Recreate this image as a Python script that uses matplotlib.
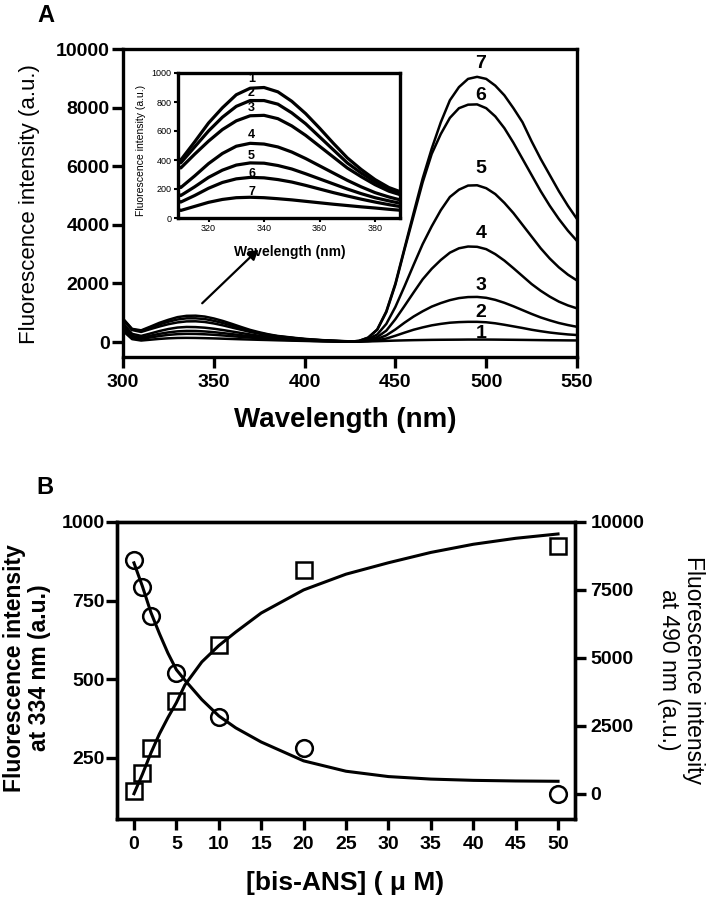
import numpy as np
import matplotlib
matplotlib.use("Agg")
import matplotlib.pyplot as plt

# fonts: Arial-like, DejaVu as fallback for odd glyphs
plt.rcParams["font.family"] = ["Liberation Sans", "DejaVu Sans"]

"""
Data read off the figure
"""

# Panel A: emission spectra, sampled every 5 nm (300-550 nm)
wavelength = np.arange(300, 551, 5)

spec1 = [800, 450, 400, 525, 655, 760, 850, 895, 900, 870, 805, 720, 620, 515, 415, 335, 265, 210, 175, 140, 110, 85, 65, 50, 35, 25,
         20, 22, 30, 40, 50, 58, 65, 70, 75, 78, 80, 82, 85, 85, 85, 83, 80, 77, 74, 70, 66, 62, 60, 57, 55]
spec2 = [780, 430, 380, 490, 600, 695, 770, 810, 810, 785, 725, 650, 560, 470, 380, 310, 250, 200, 165, 130, 100, 80, 60, 45, 32, 22,
         20, 32, 60, 120, 215, 320, 420, 500, 570, 620, 660, 680, 690, 690, 675, 640, 590, 535, 480, 420, 370, 325, 290, 260, 240]
spec3 = [760, 410, 345, 440, 530, 610, 670, 705, 708, 685, 635, 570, 495, 420, 345, 285, 230, 185, 155, 125, 95, 75, 55, 42, 30, 20,
         20, 45, 105, 230, 430, 660, 870, 1050, 1210, 1330, 1430, 1500, 1535, 1540, 1510, 1440, 1340, 1220, 1090, 960, 840, 740, 650, 580, 520]
spec4 = [650, 280, 210, 290, 375, 445, 495, 515, 510, 490, 455, 410, 360, 310, 260, 215, 175, 145, 120, 95, 75, 58, 45, 34, 25, 18,
         25, 70, 170, 390, 780, 1230, 1690, 2140, 2500, 2800, 3050, 3200, 3260, 3250, 3170, 3000, 2780, 2520, 2250, 1980, 1750, 1550, 1380, 1250, 1150]
spec5 = [560, 210, 155, 215, 280, 330, 365, 380, 378, 362, 338, 305, 270, 235, 200, 168, 140, 118, 98, 80, 64, 50, 38, 30, 22, 16,
         30, 100, 260, 620, 1200, 1900, 2630, 3340, 3950, 4500, 4950, 5200, 5340, 5350, 5250, 5050, 4750, 4400, 4000, 3600, 3200, 2850, 2550, 2300, 2100]
spec6 = [470, 160, 110, 155, 205, 245, 270, 280, 277, 265, 248, 225, 200, 175, 152, 130, 110, 92, 76, 62, 50, 40, 30, 24, 18, 14,
         40, 150, 420, 1020, 1960, 3150, 4300, 5450, 6420, 7100, 7650, 7980, 8100, 8110, 7980, 7700, 7300, 6800, 6250, 5700, 5150, 4650, 4200, 3800, 3450]
spec7 = [380, 100, 52, 80, 108, 128, 140, 143, 140, 133, 125, 115, 105, 95, 86, 77, 69, 60, 52, 45, 38, 30, 24, 19, 15, 12,
         40, 150, 430, 1050, 2000, 3200, 4400, 5580, 6600, 7500, 8250, 8700, 8980, 9050, 8980, 8750, 8420, 7980, 7500, 6850, 6250, 5700, 5150, 4650, 4200]
spectra = [spec1, spec2, spec3, spec4, spec5, spec6, spec7]

# curve number labels (main panel near 490 nm, inset near 334 nm)
label_main_y = [306, 1020, 1940, 3700, 5920, 8400, 9490]
label_inset_y = [961, 859, 757, 575, 427, 302, 177]

# Panel B: titration points and fitted curves
conc = [0, 1, 2, 5, 10, 20, 50]
f334 = [879, 793, 700, 518, 381, 282, 135]
f490 = [110, 780, 1670, 3410, 5480, 8220, 9120]

fit_conc = [0, 1, 2, 3, 4, 5, 6, 8, 10, 12, 15, 20, 25, 30, 35, 40, 45, 50]
fit334 = [870, 795, 712, 645, 583, 530, 497, 435, 383, 345, 300, 240, 207, 190, 182, 178, 176, 175]
fit490 = [0, 720, 1500, 2200, 2800, 3350, 4000, 4850, 5450, 5950, 6650, 7500, 8080, 8500, 8880, 9180, 9400, 9560]

"""
Plotting
"""

W, H = 711, 900
fig = plt.figure(figsize=(W / 100, H / 100), dpi=100)


def px_axes(left, top, right, bottom):
    return [left / W, 1 - bottom / H, (right - left) / W, (bottom - top) / H]


def bold_ticks(ax):
    for lbl in ax.get_xticklabels() + ax.get_yticklabels():
        lbl.set_fontweight("bold")


# ---- Panel A ----
axA = fig.add_axes(px_axes(123, 49, 577, 357))
for s in spectra:
    axA.plot(wavelength, s, color="black", lw=1.8)
axA.set_xlim(300, 550)
axA.set_ylim(-510, 10000)
axA.set_xticks(range(300, 551, 50))
axA.set_yticks(range(0, 10001, 2000))
for sp in axA.spines.values():
    sp.set_linewidth(2.4)
axA.tick_params(direction="out", length=8, width=2.4, labelsize=14)
axA.tick_params(axis="y", pad=1.5)
axA.tick_params(axis="x", pad=4)
bold_ticks(axA)

for i, y in enumerate(label_main_y):
    axA.text(497, y, str(i + 1), ha="center", va="center", fontsize=14, fontweight="bold")

axA.annotate("", xy=(375.7, 3231), xytext=(342.5, 1258),
             arrowprops=dict(arrowstyle="-|>", color="black", lw=1.6, mutation_scale=15))

# inset
axI = fig.add_axes(px_axes(178, 73, 400, 218))
for s in spectra:
    axI.plot(wavelength, s, color="black", lw=2.3)
axI.set_xlim(309, 389)
axI.set_ylim(0, 1000)
axI.set_xticks(range(320, 381, 20))
axI.set_yticks(range(0, 1001, 200))
for sp in axI.spines.values():
    sp.set_linewidth(2.4)
axI.tick_params(direction="out", length=3, width=1.5, labelsize=6.5, pad=1.5)
for i, y in enumerate(label_inset_y):
    axI.text(335.5, y, str(i + 1), ha="center", va="center", fontsize=9, fontweight="bold")

fig.text(290 / W, 1 - 252 / H, "Wavelength (nm)", ha="center", va="center", fontsize=10, fontweight="bold")
fig.text(141 / W, 1 - 150 / H, "Fluorescence intensity (a.u.)", rotation=90, ha="center", va="center", fontsize=7.5)

fig.text(37 / W, 1 - 22 / H, "A", fontsize=17, fontweight="bold", ha="left", va="baseline")
fig.text(345 / W, 1 - 420 / H, "Wavelength (nm)", ha="center", va="center", fontsize=20, fontweight="bold")
fig.text(30 / W, 1 - 204 / H, "Fluorescence intensity (a.u.)", rotation=90, ha="center", va="center", fontsize=16)

# ---- Panel B ----
axB = fig.add_axes(px_axes(117, 522, 575, 819))
axB.plot(fit_conc, fit334, color="black", lw=2.2)
axB.plot(conc, f334, "o", mfc="none", mec="black", ms=12, mew=1.8)
axB.set_xlim(-2, 52)
axB.set_ylim(55, 1000)
axB.set_xticks(range(0, 51, 5))
axB.set_yticks([250, 500, 750, 1000])

axR = axB.twinx()
axR.plot(fit_conc, fit490, color="black", lw=2.2)
axR.plot(conc, f490, "s", mfc="none", mec="black", ms=11, mew=1.8)
axR.set_ylim(-930, 10000)
axR.set_yticks(range(0, 10001, 2500))

for ax in (axB, axR):
    for sp in ax.spines.values():
        sp.set_linewidth(2.4)
    ax.tick_params(direction="out", length=8, width=2.4, labelsize=14)
    bold_ticks(ax)
axB.tick_params(axis="y", pad=1)
axB.tick_params(axis="x", pad=4)
axR.tick_params(axis="y", pad=3)

fig.text(36 / W, 1 - 494 / H, "B", fontsize=17, fontweight="bold", ha="left", va="baseline")
fig.text(345 / W, 1 - 883 / H, "[bis-ANS] ( μ M)", ha="center", va="center", fontsize=19, fontweight="bold")
fig.text(27 / W, 1 - 668 / H, "Fluorescence intensity\nat 334 nm (a.u.)", rotation=90,
         ha="center", va="center", fontsize=16.5, fontweight="bold", linespacing=1.15)
fig.text(681 / W, 1 - 670 / H, "Fluorescence intensity\nat 490 nm (a.u.)", rotation=270,
         ha="center", va="center", fontsize=16.5, linespacing=1.15)

fig.savefig("out.png", dpi=100)
